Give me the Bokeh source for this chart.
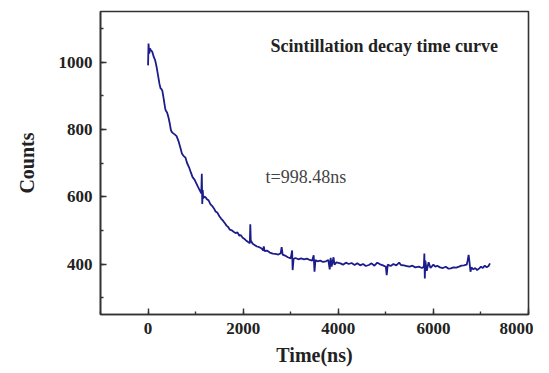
from bokeh.plotting import figure
from bokeh.models import SingleIntervalTicker, Label, Range1d
from bokeh.embed import file_html
from bokeh.resources import INLINE

time_ns = [
    0, 10, 25, 40, 60, 90, 120, 150, 180, 210, 240, 262, 280, 300, 330, 360, 375, 400, 430, 460, 480, 500,
    530, 560, 600, 640, 680, 712, 740, 786, 820, 860, 900, 936, 980, 1020, 1050, 1090, 1120,
    1130, 1140, 1150, 1160, 1180, 1210, 1240,
    1273, 1310, 1350, 1386, 1420, 1460, 1500, 1535, 1580, 1620, 1650, 1685, 1720, 1760, 1798, 1840, 1880, 1920, 1948, 1990, 2030, 2060, 2097,
    2140, 2150, 2160, 2200, 2247, 2290, 2340, 2390, 2420, 2434, 2450,
    2500, 2560, 2622, 2680, 2740, 2790, 2809, 2830, 2880, 2940, 3000, 3030,
    3040, 3060, 3100, 3160, 3220, 3280, 3340, 3400, 3450, 3483, 3500, 3520, 3560,
    3620, 3680, 3740, 3790, 3820, 3840, 3860, 3900, 3920, 3960, 4045, 4100, 4160, 4220, 4280, 4344,
    4400, 4460, 4520, 4580, 4644, 4700, 4760, 4820, 4880, 4940, 5000, 5018, 5040,
    5100, 5160, 5220, 5280, 5318, 5380, 5440, 5500, 5560, 5620, 5693, 5760, 5800,
    5810, 5820, 5830, 5860, 5900, 5940, 6000, 6040, 6080,
    6140, 6200, 6260, 6320, 6366, 6420, 6480, 6540, 6591, 6640, 6700,
    6720, 6741, 6760, 6780, 6800, 6840, 6880, 6920, 6966, 7000, 7040, 7080, 7120, 7160, 7190,
]
counts = [
    990, 1055, 1025, 1040, 1035, 1030, 1015, 1005, 985, 960, 935, 922, 920, 915, 890, 862, 855, 850, 835, 815, 798, 792,
    788, 785, 780, 765, 745, 728, 722, 716, 700, 688, 672, 658, 650, 638, 629, 618, 610,
    668, 578, 620, 595, 600, 598, 592,
    589, 578, 572, 565, 556, 552, 542, 535, 528, 520, 514, 510, 502, 500, 496, 492, 494, 484, 486, 478, 474, 470, 466,
    462, 518, 470, 460, 456, 452, 450, 446, 440, 452, 438,
    440, 434, 431, 430, 428, 432, 450, 428, 425, 420, 417, 440,
    382, 415, 418, 414, 417, 414, 416, 412, 410, 426, 377, 412, 408,
    410, 406, 408, 412, 384, 418, 392, 420, 398, 405, 402, 398, 404, 400, 403, 397,
    402, 396, 400, 394, 397, 402, 395, 404, 399, 396, 392, 367, 398,
    394, 400, 396, 404, 397, 396, 394, 392, 395, 390, 392, 388, 392,
    431, 357, 410, 380, 405, 388, 398, 392, 395,
    390, 388, 392, 386, 387, 390, 389, 392, 395, 396, 398,
    410, 427, 405, 377, 390, 384, 388, 382, 387, 392, 388, 395, 390, 394, 402,
]

title_text = "Scintillation decay time curve"
fit_text = "t=998.48ns"
x_label = "Time(ns)"
y_label = "Counts"

FONT = "Liberation Serif"

p = figure(width=533, height=368, output_backend="svg", toolbar_location=None,
           x_range=Range1d(-1000, 8000), y_range=Range1d(250, 1150),
           min_border_left=100, min_border_right=5, min_border_top=11, min_border_bottom=40)
p.grid.visible = False
p.outline_line_color = "#333333"
p.outline_line_width = 1.6
p.background_fill_color = "white"
p.border_fill_color = "white"

p.line(time_ns, counts, line_color="#1c1c8a", line_width=1.8)

p.xaxis.ticker = SingleIntervalTicker(interval=2000, num_minor_ticks=2)
p.yaxis.ticker = SingleIntervalTicker(interval=200, num_minor_ticks=2)

for ax in (p.xaxis[0], p.yaxis[0]):
    ax.axis_line_color = "#333333"
    ax.axis_line_width = 1.6
    ax.major_tick_in = 6
    ax.major_tick_out = 0
    ax.minor_tick_in = 3
    ax.minor_tick_out = 0
    ax.major_tick_line_color = "#333333"
    ax.minor_tick_line_color = "#333333"
    ax.major_tick_line_width = 1.4
    ax.minor_tick_line_width = 1.4
    ax.major_label_text_font = FONT
    ax.major_label_text_font_style = "bold"
    ax.major_label_text_font_size = "17px"
    ax.major_label_text_color = "#222222"
    ax.axis_label_text_font = FONT
    ax.axis_label_text_font_style = "bold"
    ax.axis_label_text_font_size = "20px"
    ax.axis_label_text_color = "#222222"

p.xaxis.axis_label = x_label
p.yaxis.axis_label = y_label
p.xaxis.major_label_standoff = 8
p.yaxis.major_label_standoff = 8
p.xaxis.axis_label_standoff = 7
p.yaxis.axis_label_standoff = 18

p.add_layout(Label(x=2574, y=1048, text=title_text, text_font=FONT, text_font_style="bold",
                   text_font_size="18px", text_color="#222222", text_baseline="middle"))
p.add_layout(Label(x=2470, y=658, text=fit_text, text_font=FONT,
                   text_font_size="18px", text_color="#444444", text_baseline="middle"))

open("out.html", "w").write(file_html(p, INLINE))
